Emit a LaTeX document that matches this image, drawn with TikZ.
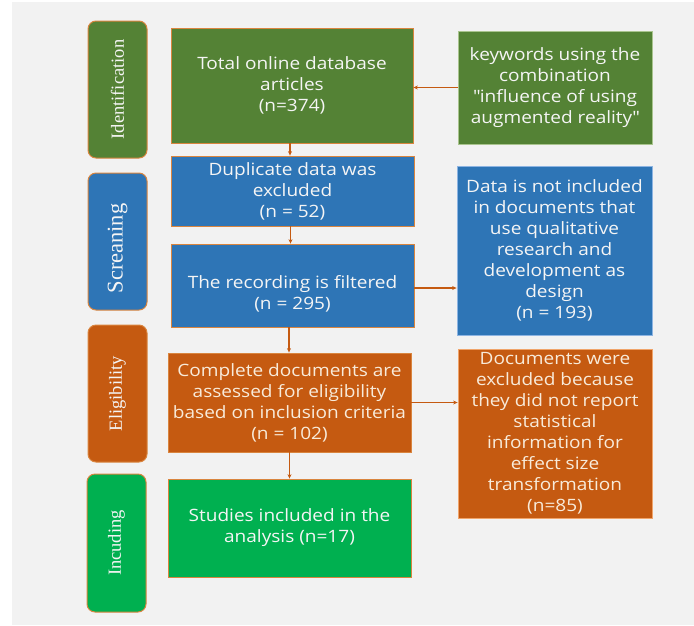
\documentclass[tikz,border=0pt]{standalone}
\usepackage{fontspec}
\setmainfont{Open Sans}[FakeStretch=1.12]
\newfontfamily\sidefont{Liberation Serif}
\usetikzlibrary{arrows.meta}
\definecolor{bggray}{HTML}{F2F2F2}
\definecolor{olive}{HTML}{548235}
\definecolor{blu}{HTML}{2E75B6}
\definecolor{org}{HTML}{C55A11}
\definecolor{grn}{HTML}{00B050}
\definecolor{edge}{HTML}{D9853F}
\definecolor{oliveedge}{HTML}{A9C48E}
\definecolor{bluedge}{HTML}{8DB4E2}
\definecolor{orgedge}{HTML}{F0A46A}
\definecolor{txt}{HTML}{F5F5F5}
\definecolor{creamtxt}{HTML}{F8EBDA}
\begin{document}
\begin{tikzpicture}[x=1pt,y=-1pt,
  box/.style={draw=edge, line width=0.8pt, text=txt, align=center, inner sep=0pt,
    font=\fontsize{17}{21}\selectfont},
  rbox/.style={box, minimum width=194pt},
  txtnode/.style={text=txt, align=center, inner sep=0pt, font=\fontsize{17}{21}\selectfont},
  side/.style={draw=edge, line width=1pt, rounded corners=8pt, rotate=90,
    minimum width=137pt, minimum height=59pt, inner sep=0pt, text=txt,
    font=\sidefont\fontsize{18.5}{20}\selectfont},
  flow/.style={draw=org, line width=1.3pt, -{Stealth[length=4.5pt,width=4pt]}}
]
\useasboundingbox (0,0) rectangle (694,625);
\fill[white] (0,0) rectangle (694,625);
\fill[bggray] (12,2) rectangle (694,625);

% side labels
\node[side, fill=olive] (sid) at (117.5,89.5) {Identification};
\node[side, fill=blu, font=\sidefont\fontsize{22.5}{24}\selectfont] (sscr) at (117.5,241.5) {Screaning\hspace*{14pt}};
\node[side, fill=org] (selig) at (117.5,393.5) {Eligibility};
\node[side, fill=grn, minimum width=138pt] (sinc) at (116.5,543) {Incuding};

% main column
\node[box, fill=olive, minimum width=242pt, minimum height=115pt] (total) at (292,85.5)
  {Total online database\\articles\\(n=374)};
\node[box, fill=blu, minimum width=243pt, minimum height=70pt] (dup) at (292.5,191)
  {Duplicate data was\\excluded\\(n = 52)};
\node[box, fill=blu, minimum width=243pt, minimum height=83pt] (rec) at (292.5,285.5) {};
\node[txtnode] (rectext) at ([yshift=-8pt]rec.center) {The recording is filtered\\(n = 295)};
\node[box, fill=org, text=creamtxt, minimum width=243pt, minimum height=99pt] (comp) at (289.5,402.5)
  {Complete documents are\\assessed for eligibility\\based on inclusion criteria\\(n = 102)};
\node[box, fill=grn, minimum width=243pt, minimum height=98pt] (stud) at (289.5,528)
  {Studies included in the\\analysis (n=17)};

% right column
\node[rbox, fill=olive, draw=oliveedge, minimum height=113pt] (kw) at (555,87.5)
  {keywords using the\\combination\\\textquotedbl influence of using\\augmented reality\textquotedbl};
\node[rbox, fill=blu, draw=bluedge, minimum width=195pt, minimum height=169pt] (data) at (554.5,250.5)
  {Data is not included\\in documents that\\use qualitative\\research and\\development as\\design\\(n = 193)};
\node[rbox, fill=org, draw=orgedge, text=creamtxt, minimum height=169pt] (docs) at (555,433.5)
  {Documents were\\excluded because\\they did not report\\statistical\\information for\\effect size\\transformation\\(n=85)};

% connectors
\draw[flow] (kw.west) -- (kw.west -| total.east);
\draw[flow] ([xshift=-2pt]total.south) -- ([xshift=-2pt]total.south |- dup.north);
\draw[flow] ([xshift=-2pt]dup.south) -- ([xshift=-2pt]dup.south |- rec.north);
\draw[flow] ([yshift=-2.5pt]rec.east) -- ([yshift=-2.5pt]rec.east -| data.west);
\draw[flow] ([xshift=-3.5pt]rec.south) -- ([xshift=-3.5pt]rec.south |- comp.north);
\draw[flow] (comp.east) -- (comp.east -| docs.west);
\draw[flow] (comp.south) -- (comp.south |- stud.north);
\end{tikzpicture}
\end{document}
